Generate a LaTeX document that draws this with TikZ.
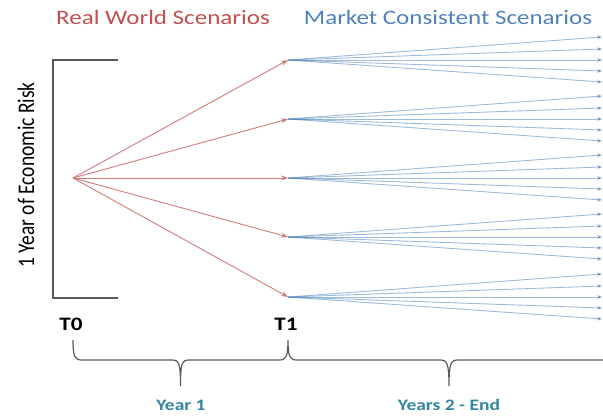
\documentclass[tikz,border=0pt]{standalone}
\usepackage{fontspec}
\setmainfont{Carlito}
\usetikzlibrary{arrows.meta}

\definecolor{realred}{RGB}{192,80,77}
\definecolor{mktblue}{RGB}{79,129,189}
\definecolor{yearteal}{RGB}{49,133,156}
\definecolor{linegray}{RGB}{89,89,89}

\tikzset{
  rwarrow/.style={draw=realred!75, line width=0.9pt, -{Stealth[length=7pt,width=5pt]}},
  mcarrow/.style={draw=mktblue, draw opacity=0.55, line width=0.9pt, -{Stealth[length=5pt,width=4pt]}},
  bracketline/.style={draw=linegray, line width=1.3pt},
  header/.style={font=\fontsize{20.5}{24}\selectfont, xscale=1.22},
  timelabel/.style={font=\fontsize{19}{23}\selectfont\bfseries, xscale=1.22},
  yearlabel/.style={font=\fontsize{16}{19}\selectfont\bfseries, text=yearteal, xscale=1.22}
}

\begin{document}
\begin{tikzpicture}[x=1pt,y=-1pt]
  \useasboundingbox (0,0) rectangle (603,418);

  % headers
  \node[header, text=realred] (rw) at (163,17) {Real World Scenarios};
  \node[header, text=mktblue] (mc) at (448,17) {Market Consistent Scenarios};

  % 1 year bracket
  \coordinate (Btop) at (118,60);
  \coordinate (Bbot) at (118,298);
  \draw[bracketline] (Btop) -- (53,60) -- (53,298) -- (Bbot);
  \node[font=\fontsize{19.5}{23}\selectfont, xscale=1.22, rotate=90] (risk) at (26,175) {1 Year of Economic Risk};

  % real world step
  \coordinate (R) at (73,178);
  \foreach \i/\y in {1/60,2/119,3/178,4/237,5/297}{
    \coordinate (S\i) at (288,\y);
    \draw[rwarrow] (R) -- (S\i);
  }

  % market consistent fans
  \foreach \i/\y in {1/60,2/119,3/178,4/237,5/297}{
    \foreach \d [count=\j] in {-23,-11,0,11,22}{
      \coordinate (E\i\j) at (602,\y+\d);
      \draw[mcarrow] (S\i) -- (E\i\j);
    }
  }

  % time axis
  \node[timelabel] (T0) at (71,324) {T0};
  \node[timelabel] (T1) at (286,324) {T1};

  \coordinate (b0) at (73,340);
  \coordinate (b1) at (288,340);
  \coordinate (y1) at (180.5,386);
  \coordinate (y2) at (449,386);
  \draw[bracketline, line width=1.2pt] (b0) .. controls (73,357) and (75,360) .. (82,360)
    -- (172,360) .. controls (179,360) and (180.5,363) .. (y1)
    .. controls (180.5,363) and (182,360) .. (189,360)
    -- (279,360) .. controls (286,360) and (288,357) .. (b1)
    .. controls (288,357) and (290,360) .. (297,360)
    -- (440,360) .. controls (447,360) and (449,363) .. (y2)
    .. controls (449,363) and (451,360) .. (458,360) -- (603,360);

  \node[yearlabel] (yr1) at (181,405) {Year 1};
  \node[yearlabel] (yr2) at (449,405) {Years 2 - End};
\end{tikzpicture}
\end{document}
